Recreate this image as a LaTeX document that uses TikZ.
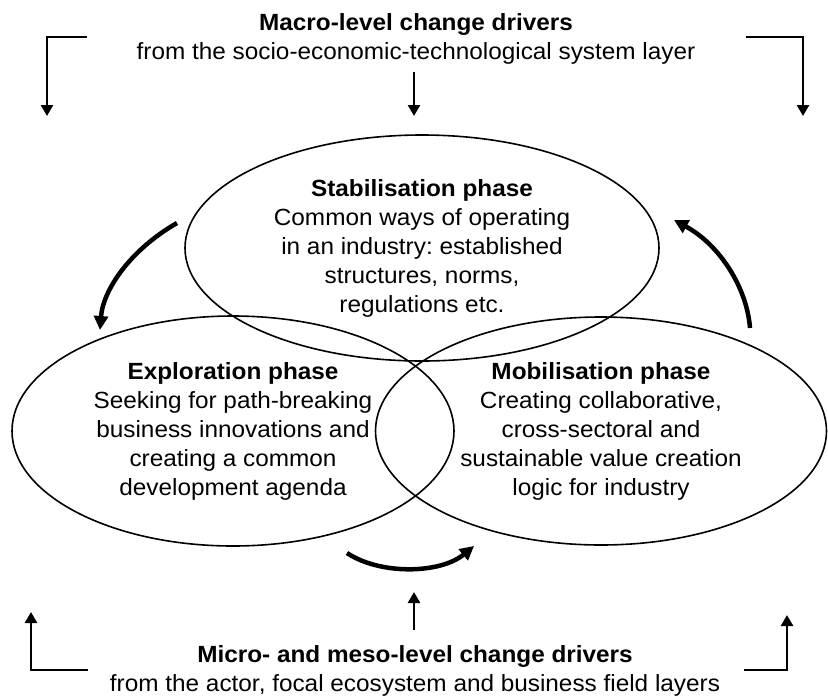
\documentclass[tikz,border=0pt]{standalone}
\usepackage{fontspec}
\setmainfont[FakeStretch=1.04]{Liberation Sans}
\usetikzlibrary{shapes.geometric,arrows.meta}
\newcommand{\phasefont}{\fontsize{23.4}{29}\selectfont}
\frenchspacing
\tikzset{
  phase/.style={draw, ellipse, line width=1.6pt, inner sep=0pt,
    align=center, font=\phasefont},
  driver/.style={align=center, inner sep=0pt, font=\phasefont},
  push/.style={line width=2.6pt, -{Triangle[length=11pt,width=12pt]}},
  turn/.style={line width=4.5pt, -{Triangle[length=14pt,width=14pt]}}
}

\begin{document}
\begin{tikzpicture}[x=1pt,y=-1pt]
  \useasboundingbox (0,0) rectangle (828,697);
  \node[driver] (macro) at (416,39)
    {\textbf{Macro-level change drivers}\\from the socio-economic-technological system layer};
  \node[driver] (micro) at (415,671)
    {\textbf{Micro- and meso-level change drivers}\\from the actor, focal ecosystem and business field layers};
  \node[phase, minimum width=474pt, minimum height=226pt] (stab) at (422,248)
    {\textbf{Stabilisation phase}\\Common ways of operating\\in an industry: established\\structures, norms,\\regulations etc.};
  \node[phase, minimum width=442pt, minimum height=230pt] (explor) at (233,431)
    {\textbf{Exploration phase}\\Seeking for path-breaking\\business innovations and\\creating a common\\development agenda};
  \node[phase, minimum width=451pt, minimum height=228pt] (mobil) at (601,431)
    {\textbf{Mobilisation phase}\\Creating collaborative,\\cross-sectoral and\\sustainable value creation\\logic for industry};
  % drivers acting on the cycle
  \draw[push] (87,37) -| (47,116);
  \draw[push] (746,37) -| (803,116);
  \draw[push] (414,72) -- (414,116);
  \draw[push] (88,670) -| (31,612);
  \draw[push] (744,670) -| (787,615);
  \draw[push] (414,630) -- (414,592);
  % phase transitions
  \coordinate (S0) at (177,223);
  \coordinate (E0) at (100,330);
  \coordinate (E1) at (347,553);
  \coordinate (M0) at (474,546);
  \coordinate (M1) at (750,328);
  \coordinate (S1) at (674,220);
  \draw[turn] (S0) .. controls (130,250) and (103,290) .. (E0);
  \draw[turn] (E1) .. controls (380,575) and (440,574) .. (M0);
  \draw[turn] (M1) .. controls (747,288) and (720,245) .. (S1);
\end{tikzpicture}
\end{document}
